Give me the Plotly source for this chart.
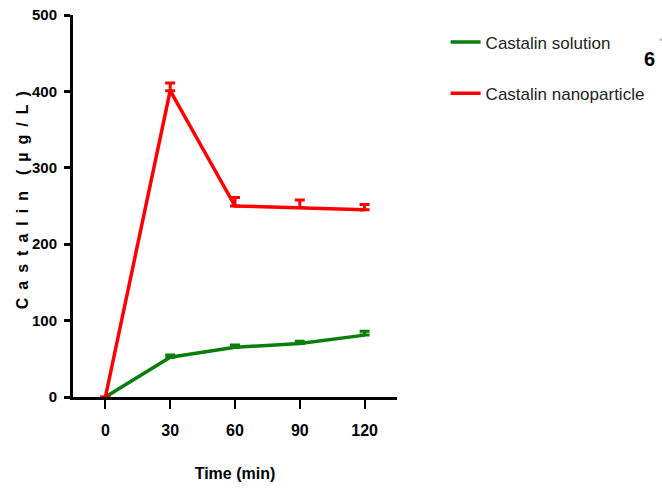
import plotly.graph_objects as go

# Sampling times (min)
time_min = [0, 30, 60, 90, 120]

# Mean plasma concentration (µg/L) and upper error (SD)
solution_mean = [0, 52, 65, 70, 81]
solution_err = [0, 3, 3, 3, 5]

nano_mean = [0, 401, 250, 248, 245]
nano_err = [0, 10, 11, 10, 7]

x_ticks = [0, 30, 60, 90, 120]
y_ticks = [0, 100, 200, 300, 400, 500]

SANS = "Liberation Sans, Arial, sans-serif"

fig = go.Figure()

fig.add_trace(go.Scatter(
    x=time_min, y=solution_mean, mode="lines", name="Castalin solution",
    legendgroup="sol",
    line=dict(color="#0a7d0a", width=3.5),
    error_y=dict(type="data", symmetric=False, array=solution_err,
                 arrayminus=[0] * len(solution_err),
                 color="#0a7d0a", thickness=3, width=5),
    cliponaxis=False,
))

fig.add_trace(go.Scatter(
    x=time_min, y=nano_mean, mode="lines", name="Castalin nanoparticle",
    legendgroup="nano",
    line=dict(color="#ff0000", width=3.5),
    error_y=dict(type="data", symmetric=False, array=nano_err,
                 arrayminus=[0] * len(nano_err),
                 color="#ff0000", thickness=3, width=5),
    cliponaxis=False,
))

sp = "\u2002"
y_title = sp.join("Castalin") + "\u2003" + sp.join("(µg/L)")

fig.update_layout(
    width=662, height=491,
    margin=dict(l=73, r=262, t=15, b=94),
    paper_bgcolor="white", plot_bgcolor="white",
    showlegend=True,
    legend=dict(
        x=1.15, y=0.975, xanchor="left", yanchor="top",
        font=dict(family=SANS, size=17, color="#222222"),
        traceorder="grouped", tracegroupgap=26,
        itemwidth=30, bgcolor="rgba(0,0,0,0)",
    ),
    xaxis=dict(
        range=[-15, 135], tickvals=x_ticks, ticktext=[str(v) for v in x_ticks],
        showgrid=False, zeroline=False, automargin=False,
        showline=True, linecolor="black", linewidth=3,
        ticks="outside", ticklen=9, tickwidth=2, tickcolor="black",
        tickfont=dict(family=SANS, size=16, color="black", weight="bold"),
        ticklabelstandoff=8,
        title=dict(text="Time (min)", standoff=30,
                   font=dict(family=SANS, size=16, color="black", weight="bold")),
    ),
    yaxis=dict(
        range=[0, 500], tickvals=y_ticks, ticktext=[str(v) for v in y_ticks],
        showgrid=False, zeroline=False, automargin=False,
        showline=True, linecolor="black", linewidth=3,
        ticks="outside", ticklen=6, tickwidth=3, tickcolor="black",
        tickfont=dict(family=SANS, size=15, color="black", weight="bold"),
        ticklabelstandoff=4,
    ),
)

# Y-axis title, rotated and letter-spaced
fig.add_annotation(x=0, y=0.515, xref="paper", yref="paper", xanchor="center",
                   yanchor="middle", xshift=-51, textangle=-90, text=y_title,
                   showarrow=False,
                   font=dict(family=SANS, size=16, color="black", weight="bold"))

# Fragment of a neighbouring panel at the right edge of the page
fig.add_annotation(x=1.0, y=0.885, xref="paper", yref="paper", xanchor="right",
                   yanchor="middle", xshift=260, text="6", showarrow=False,
                   font=dict(family=SANS, size=20, color="black", weight="bold"))
fig.add_shape(type="line", xref="paper", yref="paper", x0=1.81, x1=1.84,
              y0=0.935, y1=0.935, line=dict(color="#bbbbbb", width=2))

fig.write_html("out.html")
